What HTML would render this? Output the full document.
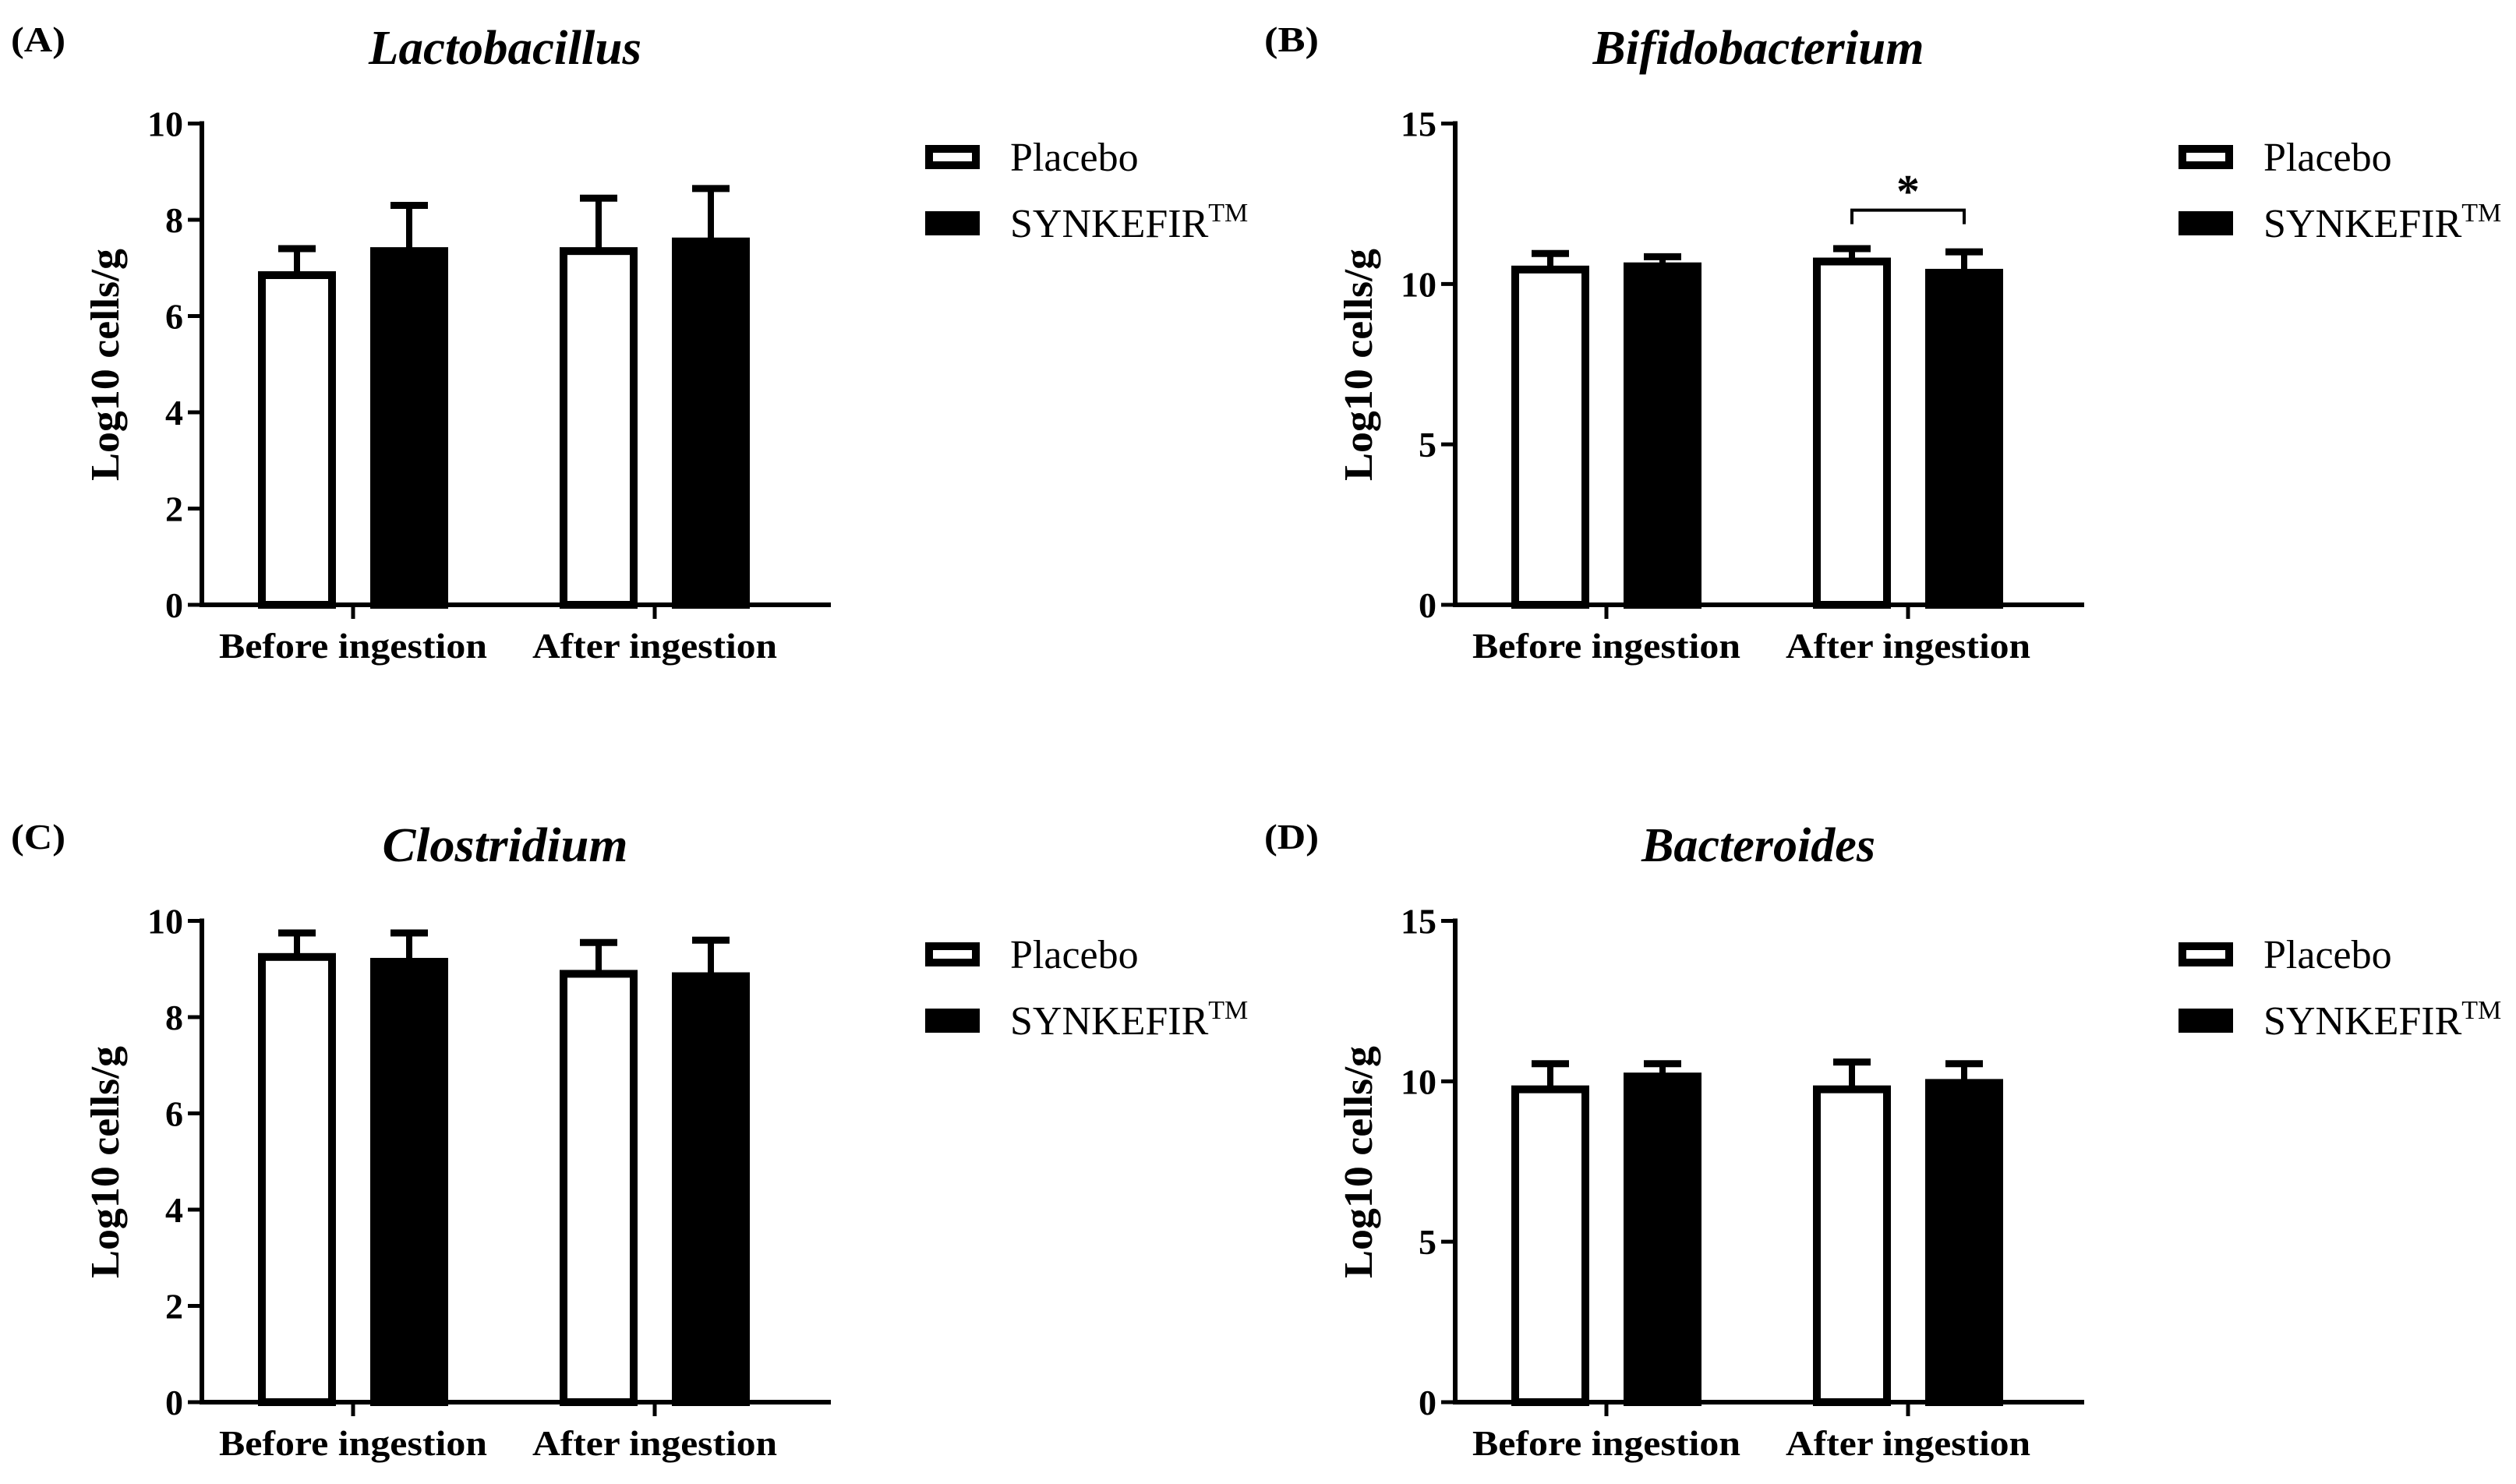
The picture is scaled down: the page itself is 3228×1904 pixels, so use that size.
<!DOCTYPE html>
<html><head><meta charset="utf-8"><style>
html,body{margin:0;padding:0;background:#fff;}
svg{display:block;font-family:"Liberation Serif","Times New Roman",serif;}
</style></head><body>
<svg id="fig" width="3228" height="1904" viewBox="0 0 3228 1904" xmlns="http://www.w3.org/2000/svg"></svg>
<script>
// Data (order: placebo-before, synkefir-before, placebo-after, synkefir-after)
const categories = ["Before ingestion", "After ingestion"];
const seriesNames = ["Placebo", "SYNKEFIR"];
const titles = ["Lactobacillus", "Bifidobacterium", "Clostridium", "Bacteroides"];
const panelLabels = ["(A)", "(B)", "(C)", "(D)"];
const yMaxes = [10, 15, 10, 15];
const yTicksA = [0, 2, 4, 6, 8, 10];
const yTicksB = [0, 5, 10, 15];
const meansA = [[6.85, 7.35], [7.35, 7.55]];
const errA = [[7.4, 8.3], [8.45, 8.65]];
const meansB = [[10.45, 10.55], [10.7, 10.35]];
const errB = [[10.95, 10.85], [11.1, 11.0]];
const meansC = [[9.25, 9.15], [8.9, 8.85]];
const errC = [[9.75, 9.75], [9.55, 9.6]];
const meansD = [[9.75, 10.15], [9.75, 9.95]];
const errD = [[10.55, 10.55], [10.6, 10.55]];
const sigB = {group: 1, value: 12.3, label: "*"};

const NS = "http://www.w3.org/2000/svg";
const svg = document.getElementById('fig');
function mk(tag, attrs, parent) {
  const e = document.createElementNS(NS, tag);
  for (const k in attrs) e.setAttribute(k, attrs[k]);
  (parent || svg).appendChild(e);
  return e;
}
const titleLens = [350, 425, 315, 300];
const panels = [
  {dx: 0, dy: 0, means: meansA, errs: errA, ticks: yTicksA},
  {dx: 1608, dy: 0, means: meansB, errs: errB, ticks: yTicksB, sig: sigB},
  {dx: 0, dy: 1023, means: meansC, errs: errC, ticks: yTicksA},
  {dx: 1608, dy: 1023, means: meansD, errs: errD, ticks: yTicksB}
];
panels.forEach((p, i) => {
  const g = mk('g', {transform: `translate(${p.dx},${p.dy})`});
  
  
  const yMax = yMaxes[i];
  const y0 = 776, y1 = 158.5;
  const ys = v => y0 - (v / yMax) * (y0 - y1);
  const axX = 259, axEnd = 1066;
  const groupX = [453, 840];
  const off = 72, bw = 90;
  let t = mk('text', {x: 14, y: 66, 'font-size': 46, 'font-weight': 'bold', textLength: 70, lengthAdjust: 'spacingAndGlyphs'}, g);
  t.textContent = panelLabels[i];
  
  
  t = mk('text', {x: 648, y: 82, 'font-size': 62, 'font-weight': 'bold', 'font-style': 'italic', 'text-anchor': 'middle', textLength: titleLens[i], lengthAdjust: 'spacingAndGlyphs'}, g);
  t.textContent = titles[i];
  
  
  t = mk('text', {x: 0, y: 0, 'font-size': 52, 'font-weight': 'bold', 'text-anchor': 'middle', textLength: 298, lengthAdjust: 'spacingAndGlyphs', transform: `translate(152,468) rotate(-90)`}, g);
  t.textContent = "Log10 cells/g";
  
  
  p.means.forEach((grp, gi) => {
    grp.forEach((v, si) => {
      const cx = groupX[gi] + (si === 0 ? -off : off);
      const top = ys(v), et = ys(p.errs[gi][si]);
      let l = mk('line', {x1: cx, x2: cx, y1: top, y2: et, stroke: '#000', 'stroke-width': 8}, g);
      
      
      l = mk('line', {x1: cx - 24, x2: cx + 24, y1: et, y2: et, stroke: '#000', 'stroke-width': 9}, g);
      
      
      const r = mk('rect', {x: cx - bw / 2, y: top, width: bw, height: y0 - top,
        fill: si === 0 ? '#fff' : '#000', stroke: '#000', 'stroke-width': 10}, g);
      
      
    });
  });
  let a = mk('line', {x1: axX, x2: axX, y1: y1 - 3, y2: y0 + 3, stroke: '#000', 'stroke-width': 6}, g);
  
  
  a = mk('line', {x1: axX - 3, x2: axEnd, y1: y0, y2: y0, stroke: '#000', 'stroke-width': 6}, g);
  
  
  p.ticks.forEach(v => {
    const y = ys(v);
    let l = mk('line', {x1: axX - 18, x2: axX, y1: y, y2: y, stroke: '#000', 'stroke-width': 5}, g);
    
    
    const tt = mk('text', {x: axX - 24, y: y + 16, 'font-size': 46, 'font-weight': 'bold', 'text-anchor': 'end'}, g);
    tt.textContent = v;
    
    
  });
  categories.forEach((c, gi) => {
    let l = mk('line', {x1: groupX[gi], x2: groupX[gi], y1: y0, y2: y0 + 18, stroke: '#000', 'stroke-width': 5}, g);
    
    
    const tt = mk('text', {x: groupX[gi], y: 844, 'font-size': 46, 'font-weight': 'bold', 'text-anchor': 'middle', textLength: gi === 0 ? 344 : 314, lengthAdjust: 'spacingAndGlyphs'}, g);
    tt.textContent = c;
    
    
  });
  if (p.sig) {
    const gx = groupX[p.sig.group], by = ys(p.sig.value);
    const pl = mk('polyline', {points: `${gx - off},${by + 18} ${gx - off},${by} ${gx + off},${by} ${gx + off},${by + 18}`, fill: 'none', stroke: '#000', 'stroke-width': 4}, g);
    
    
    const st = mk('text', {x: gx, y: by - 4, 'font-size': 60, 'font-weight': 'bold', 'text-anchor': 'middle'}, g);
    st.textContent = p.sig.label;
    
    
  }
  seriesNames.forEach((n, si) => {
    const yy = 186 + si * 85;
    const r = mk('rect', {x: 1192, y: yy + 5, width: 60, height: 21, fill: si === 0 ? '#fff' : '#000', stroke: '#000', 'stroke-width': 10}, g);
    
    
    const tt = mk('text', {x: 1296, y: yy + 33, 'font-size': 52}, g);
    tt.textContent = n;
    if (si === 1) {
      const sp = mk('tspan', {'font-size': 34, dy: -20}, tt);
      sp.textContent = "TM";
    }
    
    
  });
});
</script>
</body></html>
